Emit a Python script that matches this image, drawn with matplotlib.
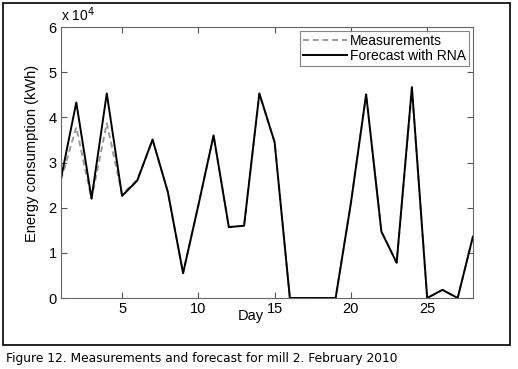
import matplotlib.pyplot as plt
from matplotlib.patches import Rectangle

plt.rcParams['font.family'] = ['Liberation Sans', 'DejaVu Sans']

days = list(range(1, 29))
# energy consumption in units of 1e4 kWh
measurements = [2.62, 3.78, 2.2, 3.87, 2.3, 2.62, 3.5, 2.35, 0.55, 2.05, 3.6, 1.57, 1.6, 4.52,
                3.45, 0.0, 0.0, 0.0, 0.0, 2.1, 4.51, 1.47, 0.78, 4.6, 0.0, 0.18, 0.0, 1.36]
forecast = [2.65, 4.33, 2.2, 4.53, 2.26, 2.6, 3.51, 2.35, 0.55, 2.05, 3.6, 1.57, 1.6, 4.53,
            3.45, 0.0, 0.0, 0.0, 0.0, 2.1, 4.51, 1.47, 0.78, 4.67, 0.0, 0.18, 0.0, 1.36]
x_ticks = [5, 10, 15, 20, 25]
y_ticks = [0, 1, 2, 3, 4, 5, 6]

fig = plt.figure(figsize=(5.18, 3.69), dpi=100)
ax = fig.add_axes([0.1178, 0.1924, 0.7952, 0.7344])

ax.plot(days, measurements, color='#999999', linestyle=(0, (3, 2)), linewidth=1.4, label='Measurements')
ax.plot(days, forecast, color='black', linewidth=1.4, label='Forecast with RNA')

ax.set_xlim(1, 28)
ax.set_ylim(0, 6)
ax.set_xticks(x_ticks)
ax.set_yticks(y_ticks)
ax.tick_params(direction='in', top=True, right=True, labelsize=10.5, length=4,
               color='#555555', pad=3)
for sp in ax.spines.values():
    sp.set_color('#666666')
    sp.set_linewidth(0.8)

ax.set_xlabel('Day', fontsize=10.5)
ax.xaxis.set_label_coords(0.46, -0.042)
ax.set_ylabel('Energy consumption (kWh)', fontsize=10.5)
ax.yaxis.set_label_coords(-0.053, 0.533)
ax.text(0.0, 1.01, 'x 10$^4$', transform=ax.transAxes, fontsize=10, ha='left', va='bottom')

leg = ax.legend(loc='upper right', fontsize=10, frameon=True, fancybox=False,
                borderpad=0.2, handlelength=3.2, handletextpad=0.2, labelspacing=0.1,
                borderaxespad=0.3)
leg.get_frame().set_edgecolor('#666666')
leg.get_frame().set_linewidth(0.8)

# outer frame around the chart
fig.patches.append(Rectangle((3 / 518, 1 - 345 / 369), 507 / 518, 342 / 369,
                             transform=fig.transFigure, fill=False,
                             edgecolor='black', linewidth=1.2))

fig.text(6 / 518, 1 - 352 / 369, 'Figure 12. Measurements and forecast for mill 2. February 2010',
         fontsize=8.8, ha='left', va='top', family=['DejaVu Sans'])

plt.savefig('out.png', dpi=100)
